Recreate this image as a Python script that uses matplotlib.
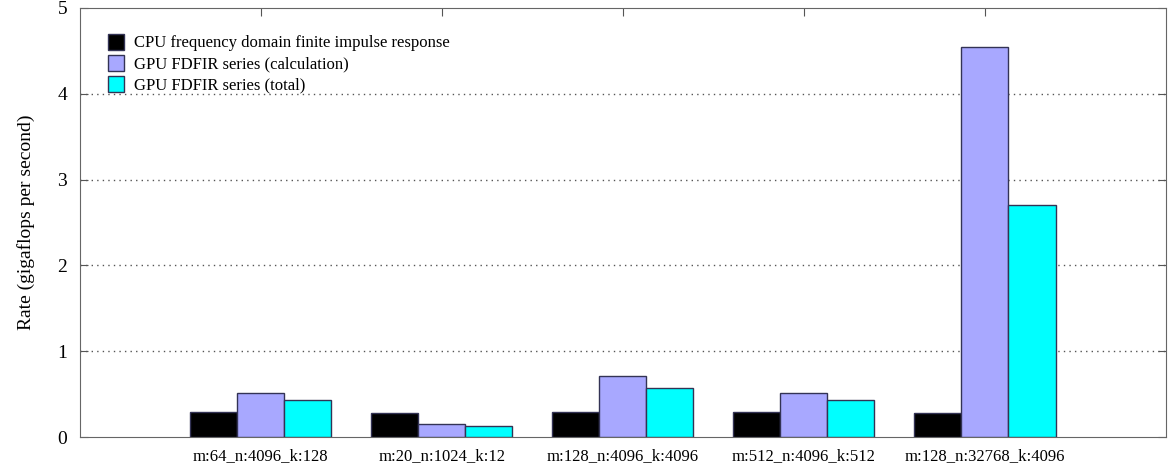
import matplotlib.pyplot as plt
import numpy as np

plt.rcParams['font.family'] = ['Liberation Serif', 'DejaVu Serif']

# Values
configs = ['m:64_n:4096_k:128', 'm:20_n:1024_k:12', 'm:128_n:4096_k:4096',
           'm:512_n:4096_k:512', 'm:128_n:32768_k:4096']
cpu_fdfir = [0.29, 0.28, 0.29, 0.29, 0.28]
gpu_calc = [0.51, 0.15, 0.71, 0.51, 4.55]
gpu_total = [0.43, 0.13, 0.57, 0.43, 2.71]

series = [
    ('CPU frequency domain finite impulse response', cpu_fdfir, '#000000'),
    ('GPU FDFIR series (calculation)', gpu_calc, '#a8a8ff'),
    ('GPU FDFIR series (total)', gpu_total, '#00ffff'),
]

fig = plt.figure(figsize=(11.73, 4.69), dpi=100)
ax = fig.add_axes([0.068, 0.068, 0.926, 0.915])

x = np.arange(1, len(configs) + 1)
w = 0.26
for i, (label, vals, color) in enumerate(series):
    ax.bar(x + (i - 1) * w, vals, width=w, color=color, edgecolor='#333355',
           linewidth=1.0, label=label, zorder=3)

ax.set_xlim(0, 6)
ax.set_ylim(0, 5)
ax.set_yticks(range(6))
ax.set_xticks(x)
ax.set_xticklabels(configs, fontsize=12)
ax.tick_params(axis='y', labelsize=14, pad=9)
ax.tick_params(direction='in', top=True, right=True, length=6, color='#555555')
ax.tick_params(axis='x', pad=8)
for y in range(1, 5):
    ax.axhline(y, color='#555555', linestyle=(0, (1, 3)), linewidth=1.0, zorder=1)
for s in ax.spines.values():
    s.set_color('#666666')

ax.set_ylabel('Rate (gigaflops per second)', fontsize=14, labelpad=16)

ax.legend(loc='upper left', bbox_to_anchor=(0.012, 0.975), frameon=False,
          fontsize=12, handlelength=1.0, handleheight=1.1, labelspacing=0.2,
          handletextpad=0.55)

fig.savefig('out.png', dpi=100)
